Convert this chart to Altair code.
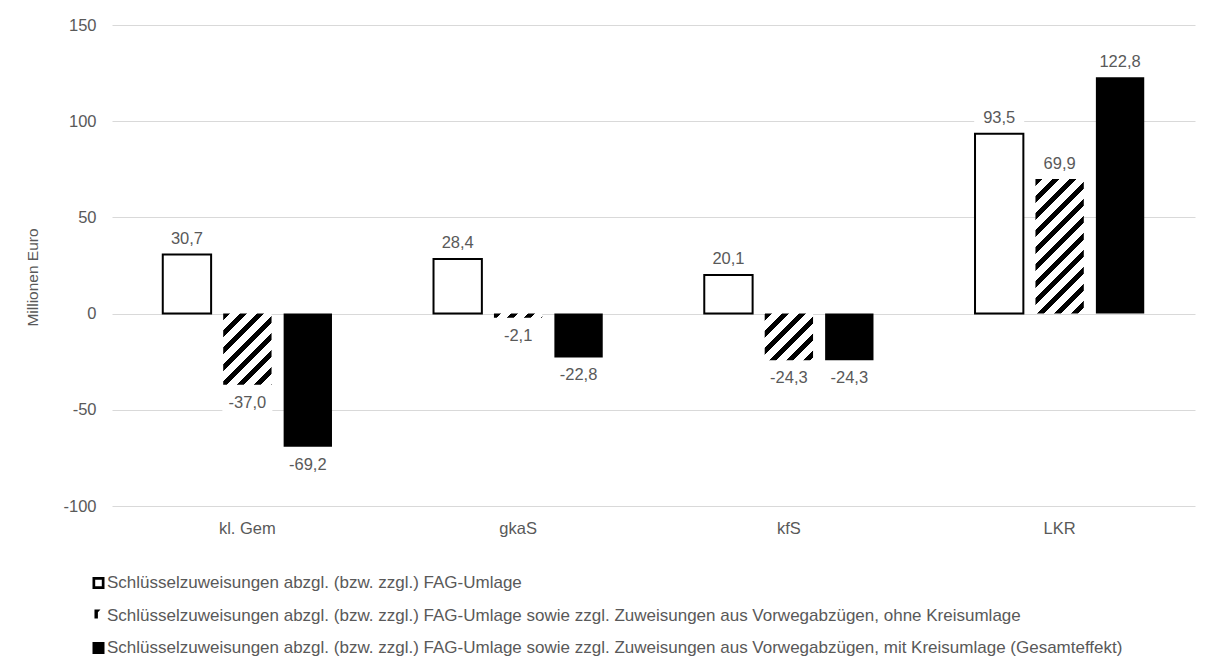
import math
import altair as alt
import pandas as pd

# ---------------- data ----------------
categories = ["kl. Gem", "gkaS", "kfS", "LKR"]
series = [
    "Schlüsselzuweisungen abzgl. (bzw. zzgl.) FAG-Umlage",
    "Schlüsselzuweisungen abzgl. (bzw. zzgl.) FAG-Umlage sowie zzgl. Zuweisungen aus Vorwegabzügen, ohne Kreisumlage",
    "Schlüsselzuweisungen abzgl. (bzw. zzgl.) FAG-Umlage sowie zzgl. Zuweisungen aus Vorwegabzügen, mit Kreisumlage (Gesamteffekt)",
]
values_s1 = [30.7, 28.4, 20.1, 93.5]
values_s2 = [-37.0, -2.1, -24.3, 69.9]
values_s3 = [-69.2, -22.8, -24.3, 122.8]
y_ticks = [-100, -50, 0, 50, 100, 150]
y_domain = [-100, 150]

rows = []
for s_name, vals in zip(series, [values_s1, values_s2, values_s3]):
    for c, v in zip(categories, vals):
        rows.append({"cat": c, "series": s_name, "value": v,
                     "label": f"{v:.1f}".replace(".", ",")})
df = pd.DataFrame(rows)

# ---------------- style ----------------
FONT = "Liberation Sans"
GRAY = "#595959"
W, H = 1083, 481
PAD_IN, PAD_OUT = 0.2, 0.84

# bar geometry (only used to size the hatch pattern of each bar)
band = W / len(categories)
step = band / (len(series) - PAD_IN + 2 * PAD_OUT)
bar_w = step * (1 - PAD_IN)
px_per_unit = H / (y_domain[1] - y_domain[0])
PH, PV, FRAC = 17.0, 17.0, 0.42  # hatch period (horizontal / vertical), black share


def hatch(value):
    w = bar_w
    h = max(abs(value) * px_per_unit, 0.5)
    n = w / PH + h / PV
    a = (w / PH) / n
    b = (h / PV) / n
    d = a * a + b * b
    stops = []
    k = 0
    while k / n < 1:
        s0 = k / n
        s1 = min((k + FRAC) / n, 1.0)
        stops += [{"offset": s0, "color": "white"}, {"offset": s0, "color": "black"},
                  {"offset": s1, "color": "black"}, {"offset": s1, "color": "white"}]
        k += 1
    stops.append({"offset": 1.0, "color": "white"})
    return {"gradient": "linear", "x1": 0, "y1": 0, "x2": a / d, "y2": b / d,
            "stops": stops}


x_enc = alt.X("cat:N", sort=categories,
              scale=alt.Scale(domain=categories, paddingInner=0, paddingOuter=0),
              axis=alt.Axis(title=None, labelAngle=0, domain=False, ticks=False,
                            labelPadding=14, labelFont=FONT, labelFontSize=16.5,
                            labelColor=GRAY, grid=False))
xo_enc = alt.XOffset("series:N", sort=series,
                     scale=alt.Scale(domain=series, paddingInner=PAD_IN, paddingOuter=PAD_OUT))
y_enc = alt.Y("value:Q",
              scale=alt.Scale(domain=y_domain, nice=False, zero=True),
              axis=alt.Axis(values=y_ticks, title="Millionen Euro", domain=False, ticks=False,
                            labelExpr="'' + datum.value",
                            labelPadding=16, labelFont=FONT, labelFontSize=16.5,
                            labelColor=GRAY, grid=True, gridColor="#d9d9d9", gridWidth=1,
                            titleFont=FONT, titleFontSize=15.5, titleFontWeight="normal",
                            titleColor=GRAY, titleAngle=270, titleX=-80, titleY=252,
                            titleAlign="center", titleBaseline="middle"))

base = alt.Chart(df).encode(x=x_enc, xOffset=xo_enc, y=y_enc)

pos = alt.datum.value >= 0
neg = alt.datum.value < 0

# white label boxes (Excel data-label background)
box_path = "M-1,-0.4H1V0.4H-1Z"
box_pos = base.transform_filter(pos).mark_point(shape=box_path, size=2500, filled=True,
                                                 color="white", opacity=1, strokeWidth=0,
                                                 yOffset=-15.5)
box_neg = base.transform_filter(neg).mark_point(shape=box_path, size=2500, filled=True,
                                                 color="white", opacity=1, strokeWidth=0,
                                                 yOffset=18)

white_bars = base.transform_filter(alt.datum.series == series[0]).mark_bar(
    fill="white", stroke="black", strokeWidth=2)

hatched_layers = []
for c, v in zip(categories, values_s2):
    hatched_layers.append(
        base.transform_filter((alt.datum.series == series[1]) & (alt.datum.cat == c))
        .mark_bar(fill=hatch(v), strokeWidth=0)
    )

black_bars = base.transform_filter(alt.datum.series == series[2]).mark_bar(
    fill="black", strokeWidth=0)

lab_pos = base.transform_filter(pos).mark_text(font=FONT, fontSize=16.5, color=GRAY,
                                               baseline="middle", dy=-15.5).encode(text="label:N")
lab_neg = base.transform_filter(neg).mark_text(font=FONT, fontSize=16.5, color=GRAY,
                                               baseline="middle", dy=18).encode(text="label:N")

hollow = "M-1,-1H1V1H-1Z M-0.55,-0.55V0.55H0.55V-0.55Z"
corner = "M-0.67,-1H0.33L-0.1,-0.55V0.5H-0.67Z"
solid = "M-1,-1H1V1H-1Z"
legend_layer = base.mark_point(filled=True, color="black", opacity=0).encode(
    shape=alt.Shape("series:N", sort=series,
                    scale=alt.Scale(domain=series, range=[hollow, corner, solid]),
                    legend=alt.Legend(orient="none", legendX=-22, legendY=549.5,
                                      direction="vertical", title=None, symbolSize=144,
                                      symbolStrokeWidth=0, symbolOpacity=1,
                                      symbolFillColor="black",
                                      labelFont=FONT, labelFontSize=17, labelColor=GRAY,
                                      labelLimit=2000, labelOffset=0, rowPadding=14.5,
                                      padding=0))
)

chart = alt.layer(box_pos, box_neg, white_bars, *hatched_layers, black_bars,
                  lab_pos, lab_neg, legend_layer).properties(
    width=W, height=H,
    padding={"left": 104, "top": 17, "right": 4, "bottom": 150},
    autosize=alt.AutoSizeParams(type="none"),
).configure_view(stroke=None)

chart.save("out.html", embed_options={"renderer": "svg", "actions": False})
